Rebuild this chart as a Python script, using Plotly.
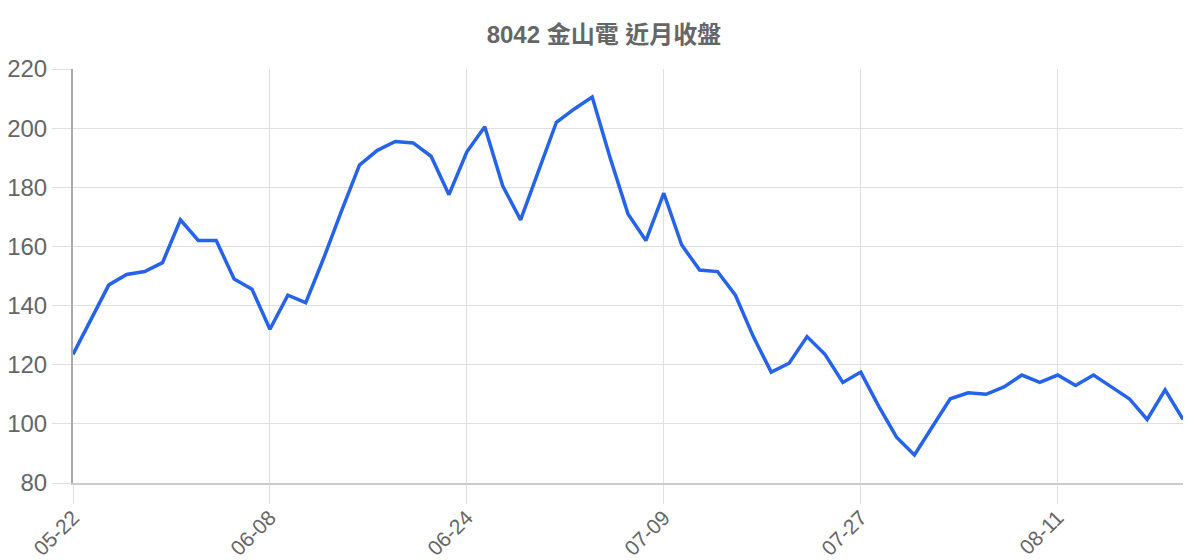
import plotly.graph_objects as go

title_text = "8042 金山電 近月收盤"

dates = [
    "05-22", "05-25", "05-26", "05-27", "05-28", "05-29",
    "06-01", "06-02", "06-03", "06-04", "06-05",
    "06-08", "06-09", "06-10", "06-11", "06-12",
    "06-15", "06-16", "06-17", "06-18",
    "06-22", "06-23", "06-24", "06-25", "06-26",
    "06-29", "06-30", "07-01", "07-02", "07-03",
    "07-06", "07-07", "07-08", "07-09", "07-10",
    "07-13", "07-14", "07-15", "07-16", "07-17",
    "07-20", "07-22", "07-23", "07-24",
    "07-27", "07-28", "07-29", "07-30", "07-31",
    "08-03", "08-04", "08-05", "08-06", "08-07",
    "08-10", "08-11", "08-12", "08-13", "08-14",
    "08-17", "08-18", "08-19", "08-20",
]

closes = [
    123.5, 135.5, 147.0, 150.5, 151.5, 154.5, 169.0, 162.0, 162.0, 149.0,
    145.5, 132.0, 143.5, 141.0, 156.0, 172.0, 187.5, 192.5, 195.5, 195.0,
    190.5, 177.5, 192.0, 200.5, 180.5, 169.0, 185.5, 202.0, 206.5, 210.5,
    190.0, 171.0, 162.0, 178.0, 160.5, 152.0, 151.5, 143.5, 129.5, 117.5,
    120.5, 129.5, 123.5, 114.0, 117.5, 106.0, 95.5, 89.5, 99.0, 108.5,
    110.5, 110.0, 112.5, 116.5, 114.0, 116.5, 113.0, 116.5, 112.5, 108.5,
    101.5, 111.5, 101.5,
]

tick_labels = ["05-22", "06-08", "06-24", "07-09", "07-27", "08-11"]
y_ticks = [80, 100, 120, 140, 160, 180, 200, 220]

fig = go.Figure()
fig.add_trace(go.Scatter(
    x=dates, y=closes, mode="lines",
    line=dict(color="#2563eb", width=3.5),
    hoverinfo="x+y",
))

fig.update_layout(
    width=1192, height=552,
    margin=dict(l=65, r=17, t=61, b=77, autoexpand=False),
    paper_bgcolor="white", plot_bgcolor="white",
    showlegend=False,
    title=dict(
        text="<b>" + title_text + "</b>",
        x=0.5, xanchor="center", y=1 - 27 / 552, yanchor="middle",
        font=dict(family="Liberation Sans, Noto Sans CJK TC, sans-serif", size=24, color="#666666"),
    ),
    font=dict(family="Liberation Sans, Noto Sans CJK TC, sans-serif", color="#666666"),
)

fig.update_xaxes(
    type="category",
    range=[0, len(dates) - 1],
    tickmode="array", tickvals=tick_labels, ticktext=tick_labels,
    tickangle=-45,
    tickfont=dict(size=21, color="#666666"),
    ticklabelstandoff=-7,
    showgrid=True, gridcolor="#e0e0e0", gridwidth=1,
    ticks="outside", ticklen=19, tickcolor="#e0e0e0",
    showline=True, linecolor="#cccccc", linewidth=2,
    zeroline=False, automargin=False,
)

fig.update_yaxes(
    range=[80, 220],
    tickmode="array", tickvals=y_ticks,
    tickfont=dict(size=24, color="#666666"),
    showgrid=True, gridcolor="#e0e0e0", gridwidth=1,
    ticks="outside", ticklen=19, tickcolor="#e0e0e0",
    showline=True, linecolor="#aaaaaa", linewidth=2,
    zeroline=False, automargin=False,
)

fig.write_html("out.html")
